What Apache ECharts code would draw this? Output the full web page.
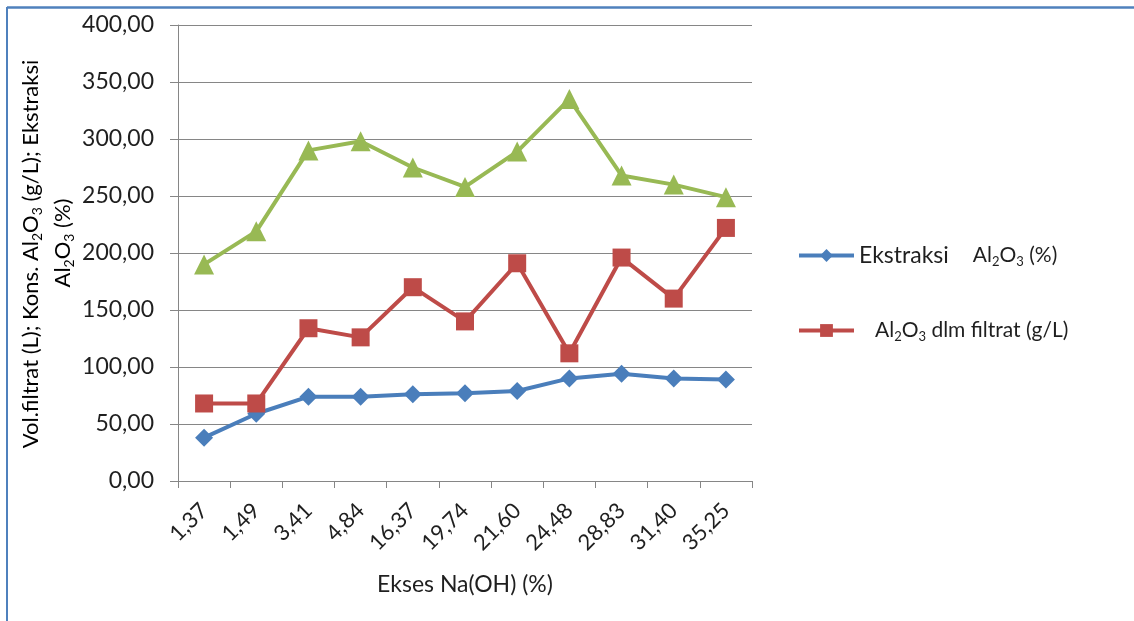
<!DOCTYPE html>
<html>
<head>
<meta charset="utf-8">
<script src="https://cdn.jsdelivr.net/npm/echarts@6/dist/echarts.min.js"></script>
<style>
  html, body { margin: 0; padding: 0; background: #fff; }
  #chart { width: 1134px; height: 621px; }
</style>
</head>
<body>
<div id="chart"></div>
<script>
// Excess NaOH levels (category axis)
const categories = ['1,37', '1,49', '3,41', '4,84', '16,37', '19,74', '21,60', '24,48', '28,83', '31,40', '35,25'];
// Al2O3 extraction (%)
const ekstraksi = [38, 59, 74, 74, 76, 77, 79, 90, 94, 90, 89];
// Al2O3 in filtrate (g/L)
const filtrat = [68, 68, 134, 126, 170, 140, 191, 112, 196, 160, 222];
// Filtrate volume (L)
const volume = [190, 219, 290, 298, 275, 258, 289, 335, 268, 260, 249];
// Value axis ticks
const yMin = 0, yMax = 400, yStep = 50;

const FONT = 'Lato, "Open Sans", sans-serif';
const TXT = '#1f1f1f';

function subStyles(size) {
  return {
    n: { fontSize: size, fontFamily: FONT, color: TXT },
    s: { fontSize: Math.round(size * 0.62), fontFamily: FONT, color: TXT, padding: [Math.round(size * 0.6), 0, 0, 0] }
  };
}

const legendRich = Object.assign(subStyles(21), {
  big: { fontSize: 23, fontFamily: FONT, color: TXT },
  g1: { width: 24 },
  g2: { width: 16 }
});

const titleRich = subStyles(22);

const chart = echarts.init(document.getElementById('chart'));
chart.setOption({
  animation: false,
  backgroundColor: '#fff',
  graphic: [
    // frame
    { type: 'line', shape: { x1: 7, y1: 7.5, x2: 1134, y2: 7.5 }, style: { stroke: '#4f81bd', lineWidth: 2.5 } },
    { type: 'line', shape: { x1: 7, y1: 7, x2: 7, y2: 621 }, style: { stroke: '#4f81bd', lineWidth: 2 } },
    // value axis title, two lines
    {
      type: 'text', x: 31, y: 254, rotation: Math.PI / 2,
      style: {
        text: '{n|Vol.filtrat (L); Kons. Al}{s|2}{n|O}{s|3}{n| (g/L); Ekstraksi}',
        rich: titleRich, align: 'center', verticalAlign: 'middle'
      }
    },
    {
      type: 'text', x: 63, y: 243, rotation: Math.PI / 2,
      style: {
        text: '{n|Al}{s|2}{n|O}{s|3}{n| (%)}',
        rich: titleRich, align: 'center', verticalAlign: 'middle'
      }
    }
  ],
  grid: { left: 178, right: 382, top: 25, bottom: 140 },
  legend: [
    {
      left: 797, top: 244, padding: 0, itemWidth: 55, itemHeight: 16,
      data: ['ekstraksi'],
      lineStyle: { width: 4 },
      formatter: () => '{big|Ekstraksi}{g1|}{n|Al}{s|2}{n|O}{s|3}{n| (%)}',
      textStyle: { rich: legendRich }
    },
    {
      left: 797, top: 320, padding: 0, itemWidth: 55, itemHeight: 16,
      data: ['filtrat'],
      lineStyle: { width: 4 },
      formatter: () => '{g2|}{n|Al}{s|2}{n|O}{s|3}{n| dlm filtrat (g/L)}',
      textStyle: { rich: legendRich }
    }
  ],
  xAxis: {
    type: 'category',
    data: categories,
    boundaryGap: true,
    axisLine: { lineStyle: { color: '#868686', width: 1 } },
    axisTick: { show: true, length: 7, inside: false, lineStyle: { color: '#868686' } },
    axisLabel: {
      rotate: 45, fontSize: 22, fontFamily: FONT, color: TXT,
      margin: 26, padding: [14, 0, 0, 0], interval: 0
    },
    name: 'Ekses Na(OH) (%)',
    nameLocation: 'middle',
    nameGap: 92,
    nameTextStyle: { fontSize: 23, fontFamily: FONT, color: TXT }
  },
  yAxis: {
    type: 'value',
    min: yMin, max: yMax, interval: yStep,
    axisLine: { show: true, lineStyle: { color: '#868686' } },
    axisTick: { show: true, length: 8, lineStyle: { color: '#868686' } },
    splitLine: { lineStyle: { color: '#868686', width: 1 } },
    axisLabel: {
      fontSize: 23, fontFamily: FONT, color: TXT, margin: 24,
      formatter: v => v.toFixed(2).replace('.', ',')
    }
  },
  series: [
    {
      name: 'ekstraksi', type: 'line', data: ekstraksi,
      symbol: 'diamond', symbolSize: 18,
      lineStyle: { color: '#4a7ebb', width: 4 },
      itemStyle: { color: '#4a7ebb' }
    },
    {
      name: 'filtrat', type: 'line', data: filtrat,
      symbol: 'rect', symbolSize: 18,
      lineStyle: { color: '#be4b48', width: 4 },
      itemStyle: { color: '#be4b48' }
    },
    {
      name: 'volume', type: 'line', data: volume,
      symbol: 'triangle', symbolSize: 20,
      lineStyle: { color: '#98b954', width: 4 },
      itemStyle: { color: '#98b954' }
    }
  ]
});
</script>
</body>
</html>
